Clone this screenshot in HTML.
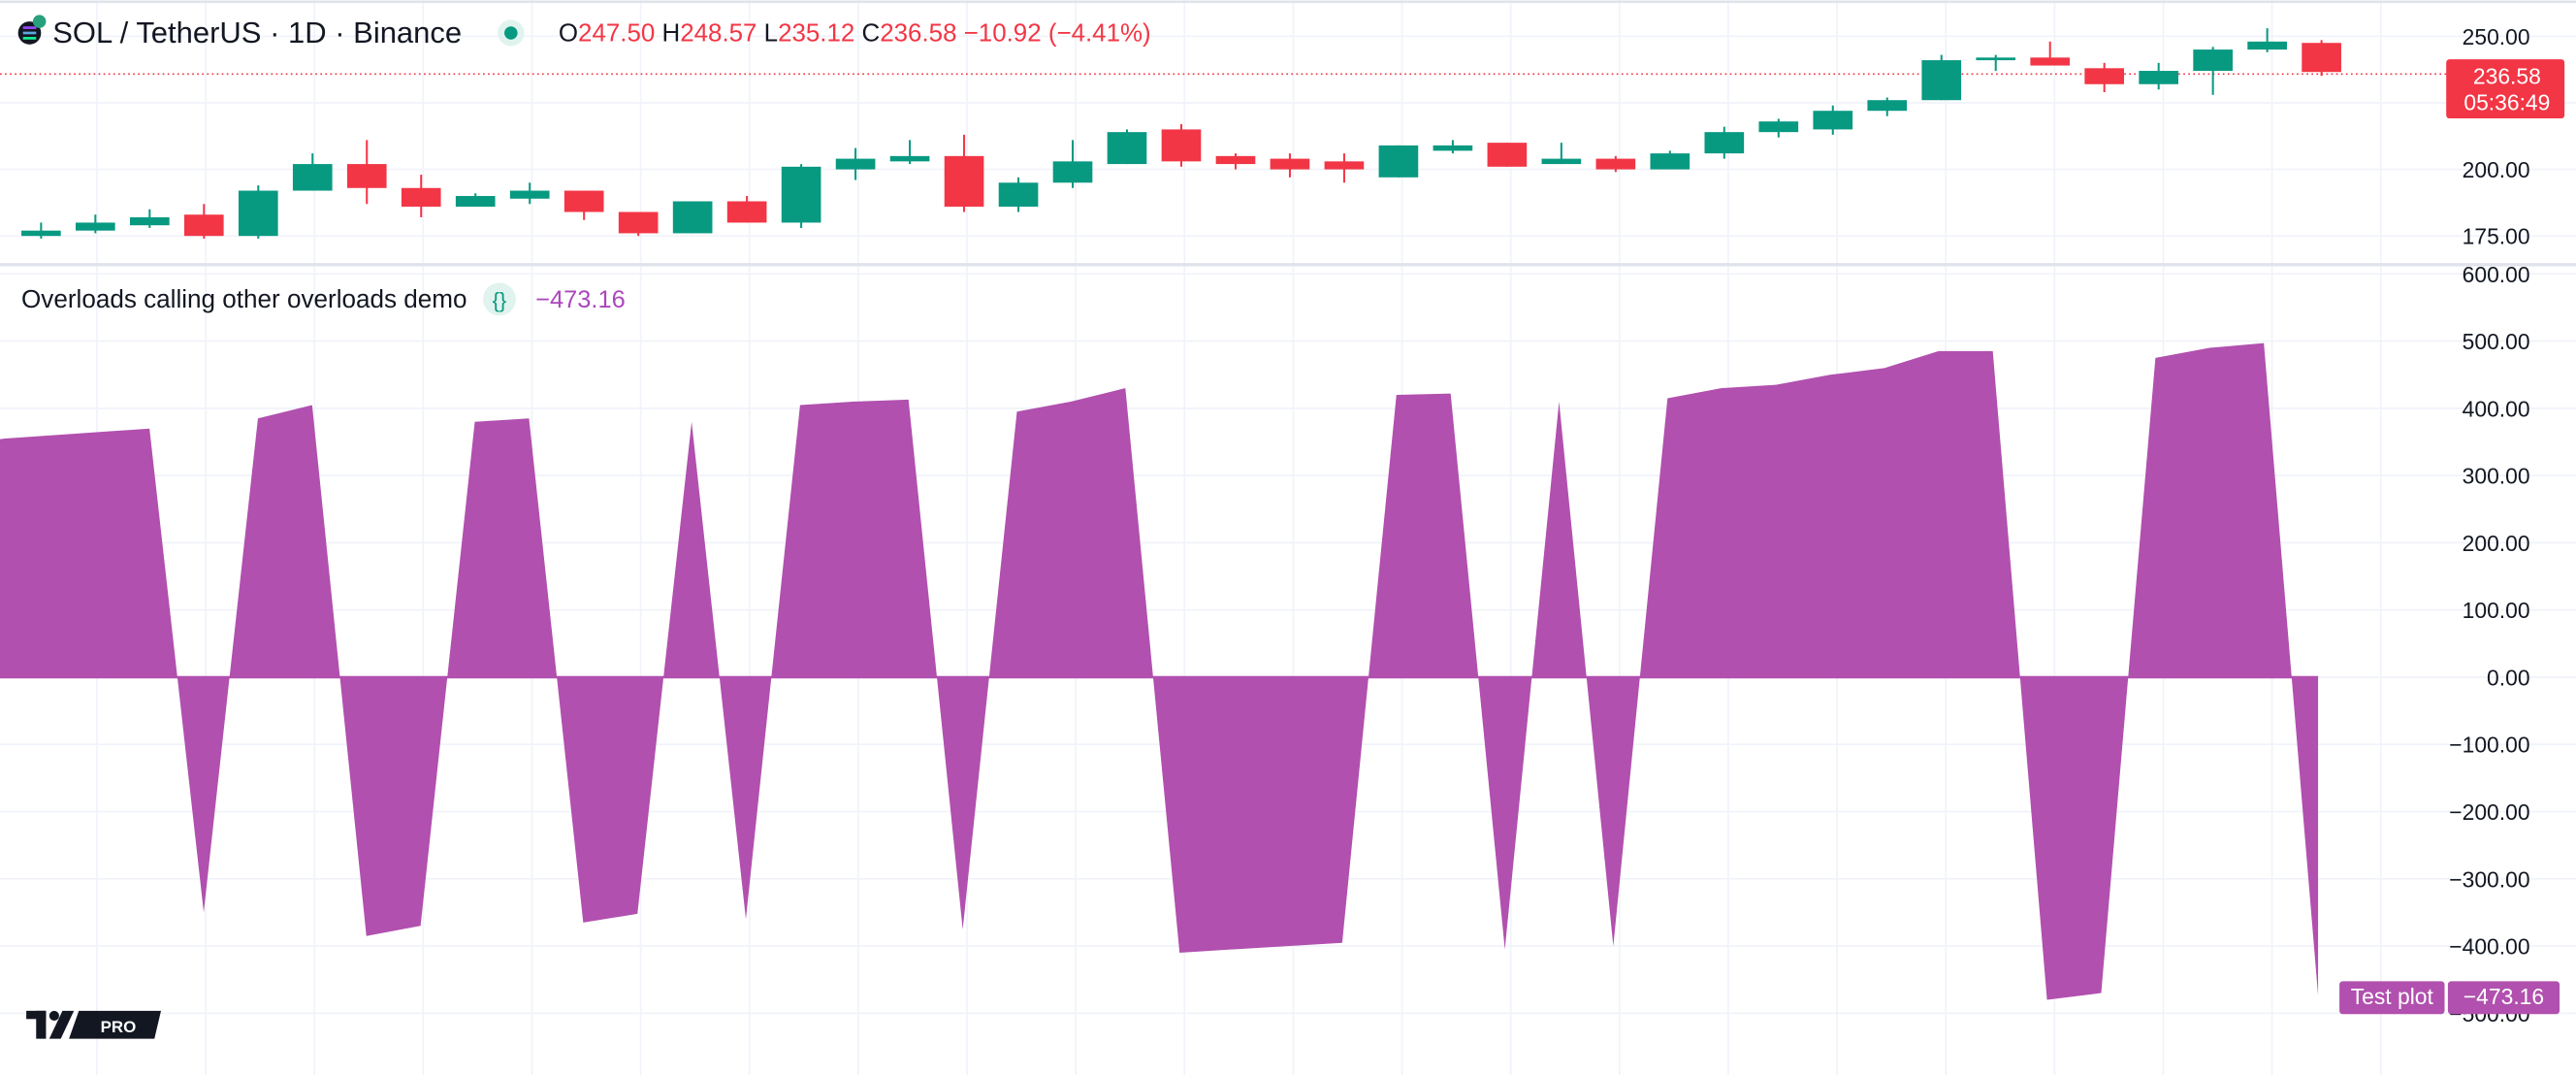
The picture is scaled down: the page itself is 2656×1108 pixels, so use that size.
<!DOCTYPE html>
<html><head><meta charset="utf-8"><style>
html,body{margin:0;padding:0;background:#fff;}
svg{display:block;font-family:"Liberation Sans",Arial,sans-serif;}
</style></head><body>
<svg id="s" width="2656" height="1108" viewBox="0 0 1568 654" xmlns="http://www.w3.org/2000/svg">
<rect width="1568" height="654" fill="#fff"/>
<g id="grid" stroke="#f0f3fa" stroke-width="1"></g>
<line x1="0" y1="1" x2="1568" y2="1" stroke="#e0e3eb" stroke-width="1.5"/>
<line x1="0" y1="161" x2="1568" y2="161" stroke="#e0e3eb" stroke-width="2"/>
<line x1="0" y1="45" x2="1490" y2="45" stroke="#f23645" stroke-width="1" stroke-dasharray="1,2"/>
<g id="candles"></g>
<g id="area"></g>
<!-- header -->
<circle cx="18" cy="20" r="7" fill="#131722"/>
<rect x="14" y="16" width="8" height="1.6" fill="#9945ff"/><rect x="14" y="19.2" width="8" height="1.6" fill="#5fa7e0"/><rect x="14" y="22.4" width="8" height="1.6" fill="#14f195"/>
<circle cx="24" cy="13" r="4" fill="#26a17b"/>
<text x="32" y="26" font-size="18.3" fill="#131722">SOL / TetherUS · 1D · Binance</text>
<circle cx="311" cy="20" r="8" fill="#e0f3ee"/><circle cx="311" cy="20" r="4" fill="#089981"/>
<text x="340" y="25" font-size="15.3" fill="#f23645"><tspan fill="#131722">O</tspan>247.50 <tspan fill="#131722">H</tspan>248.57 <tspan fill="#131722">L</tspan>235.12 <tspan fill="#131722">C</tspan>236.58 −10.92 (−4.41%)</text>
<text x="13" y="187" font-size="15.4" fill="#131722">Overloads calling other overloads demo</text>
<rect x="294" y="172" width="20" height="20" rx="10" fill="#e0f3ee"/>
<text x="304" y="187" font-size="13" fill="#089981" text-anchor="middle">{}</text>
<text x="326" y="187" font-size="15" fill="#ab47bc">−473.16</text>
<!-- axis labels -->
<g font-size="13.5" fill="#131722" text-anchor="end" id="axis"></g>
<rect x="1489" y="36" width="72" height="36" rx="2" fill="#f23645"/>
<text x="1526" y="51" font-size="13.5" fill="#fff" text-anchor="middle">236.58</text>
<text x="1526" y="67" font-size="13.5" fill="#fff" text-anchor="middle">05:36:49</text>
<rect x="1424" y="597" width="64" height="20" rx="2" fill="#b150ae"/>
<text x="1456" y="611" font-size="13.5" fill="#fff" text-anchor="middle">Test plot</text>
<rect x="1490" y="597" width="68" height="20" rx="2" fill="#b150ae"/>
<text x="1524" y="611" font-size="13.5" fill="#fff" text-anchor="middle">−473.16</text>
<!-- logo -->
<g fill="#131722"><rect x="16" y="615" width="12" height="5"/><rect x="22" y="615" width="6" height="17"/><circle cx="33" cy="618" r="3"/><polygon points="38,615 45,615 37,632 30,632"/><polygon points="48,615 98,615 94,632 42,632"/></g>
<text x="72" y="628" font-size="10" fill="#fff" text-anchor="middle" font-weight="bold">PRO</text>
</svg>
<script>
const NS="http://www.w3.org/2000/svg";
function el(t,a,p){const e=document.createElementNS(NS,t);for(const k in a)e.setAttribute(k,a[k]);(p||document.getElementById('s')).appendChild(e);return e;}
const grid=document.getElementById('grid');
for(let x=59;x<1490;x+=66.2){el('line',{x1:x,y1:0,x2:x,y2:654},grid);}
const py=p=>103-(p-200)*1.62, iy=v=>412-v*0.409;
[250,225,200,175].forEach(p=>el('line',{x1:0,y1:py(p),x2:1568,y2:py(p)},grid));
for(let v=600;v>=-500;v-=100) el('line',{x1:0,y1:iy(v),x2:1568,y2:iy(v)},grid);
const ax=document.getElementById('axis');
[[250],[200],[175]].forEach(([p])=>{const t=el('text',{x:1540,y:py(p)+5},ax);t.textContent=p.toFixed(2);});
for(let v=600;v>=-500;v-=100){const t=el('text',{x:1540,y:iy(v)+5},ax);t.textContent=(v<0?'−'+(-v).toFixed(2):v.toFixed(2));}
const C=[[175,177,174,180],[177,180,176,183],[179,182,178,185],[183,175,174,187],[175,192,174,194],[192,202,192,206],[202,193,187,211],[193,186,182,198],[186,190,186,191],[189,192,187,195],[192,184,181,192],[184,176,175,184],[176,188,176,188],[188,180,180,190],[180,201,178,202],[200,204,196,208],[203,205,202,211],[205,186,184,213],[186,195,184,197],[195,203,193,211],[202,214,202,215],[215,203,201,217],[205,202,200,206],[204,200,197,206],[203,200,195,206],[197,209,197,209],[207,209,206,211],[210,201,201,210],[202,204,202,210],[204,200,199,205],[200,206,200,207],[206,214,204,216],[214,218,212,219],[215,222,213,224],[222,226,220,227],[226,241,226,243],[241,242,237,243],[242,239,239,248],[238,232,229,240],[232,237,230,240],[237,245,228,246],[245,248,244,253],[247.5,236.58,235.12,248.57]];
const cg=document.getElementById('candles');
C.forEach((c,i)=>{const x=25+i*33.05;const [o,cl,l,h]=c;const col=cl>=o?'#089981':'#f23645';
el('line',{x1:x,y1:py(h),x2:x,y2:py(l),stroke:col,'stroke-width':1.2},cg);
const t=py(Math.max(o,cl)),b=py(Math.min(o,cl));el('rect',{x:x-12,y:t,width:24,height:Math.max(b-t,1.5),fill:col},cg);});
const V=[[-8,352],[3,355],[91,370],[124,-350],[157,385],[190,405],[223,-385],[256,-370],[289,380],[322,385],[355,-365],[388,-352],[421,380],[454,-360],[487,405],[520,410],[553,413],[586,-375],[619,395],[652,410],[685,430],[718,-410],[751,-405],[784,-400],[817,-395],[850,420],[883,422],[916,-405],[949,410],[982,-400],[1015,415],[1048,430],[1081,435],[1114,450],[1147,460],[1180,485],[1213,485],[1246,-480],[1279,-470],[1312,475],[1345,490],[1378,497],[1411,-473]];
let d='M-8,412 '+V.map(p=>'L'+p[0]+','+iy(p[1]).toFixed(1)).join(' ')+' L1411,412 Z';
el('path',{d:d,fill:'#b150ae'},document.getElementById('area'));
el('line',{x1:0,y1:412,x2:1411,y2:412,stroke:'#b150ae','stroke-width':1.5},document.getElementById('area'));
</script>
</body></html>
